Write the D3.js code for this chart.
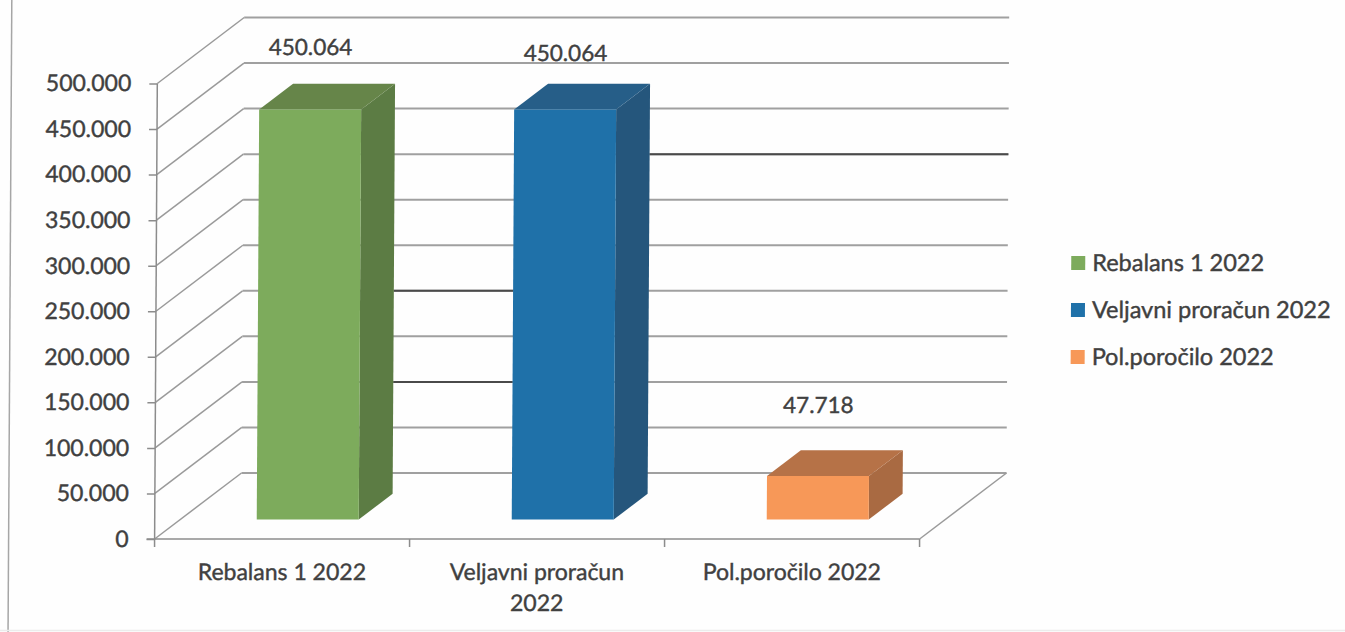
<!DOCTYPE html>
<html>
<head>
<meta charset="utf-8">
<script src="https://cdn.jsdelivr.net/npm/d3@7"></script>
<style>
html, body { margin: 0; padding: 0; background: #fefefe; }
svg { display: block; }
text { font-family: Lato, "Open Sans", sans-serif; fill: #404040; stroke: #404040; stroke-width: 0.4px; }
</style>
</head>
<body>
<svg width="1345" height="632"></svg>
<script>
var categories = ["Rebalans 1 2022", "Veljavni proračun 2022", "Pol.poročilo 2022"];
var values = [450064, 450064, 47718];
var valueLabels = ["450.064", "450.064", "47.718"];
var yTicks = [0, 50000, 100000, 150000, 200000, 250000, 300000, 350000, 400000, 450000, 500000];
var frontColors = ["#7dab5c", "#1f71a9", "#f79858"];
var sideColors = ["#5c7c44", "#25567c", "#a96a42"];
var topColors = ["#668549", "#265e88", "#b67247"];
var darkGapA = [200000, 100000];
var darkGapB = [350000];

var svg = d3.select("svg");

var fmt = d3.formatLocale({ decimal: ",", thousands: ".", grouping: [3], currency: ["", ""] }).format(",");

// the reference is a slightly tilted scan
var chart = svg.append("g").attr("transform", "translate(2.8,0) skewX(-0.34)");

// page border from the scan
chart.append("line").attr("x1", 9).attr("x2", 9).attr("y1", 0).attr("y2", 632)
    .style("stroke", "#a6a6a6").style("stroke-width", 1.5);
svg.append("line").attr("x1", 0).attr("x2", 1345).attr("y1", 630.5).attr("y2", 630.5)
    .style("stroke", "#ececec").style("stroke-width", 1.5);

var left = 155, right = 920, depthX = 86.5, depthY = 66;
var y = d3.scaleLinear().domain([0, 500000]).range([539, 83.5]);
var x = d3.scaleBand().domain(categories).range([left, right]).paddingInner(0.6).paddingOuter(0.3);
var barNear = 0.295, barFar = 0.685;

function wallY(v) { return y(v) - depthY; }

// side wall and back wall grid
var grid = chart.append("g");
grid.selectAll(".side").data(yTicks).enter().append("line")
    .attr("class", "side")
    .attr("x1", left).attr("y1", function(d) { return y(d); })
    .attr("x2", left + depthX).attr("y2", wallY)
    .style("stroke", "#9a9a9a").style("stroke-width", 1.5);
grid.selectAll(".back").data(yTicks).enter().append("line")
    .attr("class", "back")
    .attr("x1", left + depthX).attr("y1", wallY)
    .attr("x2", right + depthX).attr("y2", wallY)
    .style("stroke", "#a0a0a0").style("stroke-width", 2);
// floor right edge
grid.append("line")
    .attr("x1", right).attr("y1", y(0))
    .attr("x2", right + depthX).attr("y2", wallY(0))
    .style("stroke", "#9a9a9a").style("stroke-width", 1.5);

// darker scan lines between the bars
function barRight(i) { return x(categories[i]) + x.bandwidth() + barFar * depthX; }
grid.selectAll(".darkA").data(darkGapA).enter().append("line")
    .attr("class", "darkA")
    .attr("x1", barRight(0)).attr("y1", wallY)
    .attr("x2", x(categories[1]) + barNear * depthX).attr("y2", wallY)
    .style("stroke", "#4a4a4a").style("stroke-width", 2);
grid.selectAll(".darkB").data(darkGapB).enter().append("line")
    .attr("class", "darkB")
    .attr("x1", barRight(1)).attr("y1", wallY)
    .attr("x2", right + depthX).attr("y2", wallY)
    .style("stroke", "#4a4a4a").style("stroke-width", 2);

// axes
var yAxis = d3.axisLeft(y).tickValues(yTicks).tickFormat(fmt).tickSize(8).tickPadding(18);
var gy = chart.append("g").attr("transform", "translate(" + left + ",0)").call(yAxis);
gy.selectAll("text").style("font-size", "23px");
gy.selectAll("line, path").style("stroke", "#8c8c8c").style("stroke-width", 1.5);
gy.select("path").attr("d", "M0," + y(500000) + "V" + y(0));

var floorLine = chart.append("g");
floorLine.append("line").attr("x1", left - 8).attr("x2", right).attr("y1", y(0)).attr("y2", y(0))
    .style("stroke", "#8c8c8c").style("stroke-width", 1.5);
floorLine.selectAll(".tick").data(d3.range(categories.length + 1)).enter().append("line")
    .attr("class", "tick")
    .attr("x1", function(d) { return left + d * x.step(); })
    .attr("x2", function(d) { return left + d * x.step(); })
    .attr("y1", y(0)).attr("y2", y(0) + 8)
    .style("stroke", "#8c8c8c").style("stroke-width", 1.5);

var xAxis = d3.axisBottom(x).tickSize(0).tickPadding(0);
var gx = chart.append("g").attr("transform", "translate(0," + y(0) + ")").call(xAxis);
gx.select("path").remove();
gx.selectAll("text")
    .style("font-size", "23px")
    .attr("y", 41).attr("dy", null)
    .each(function(d) {
        if (d.length < 20) return;
        var el = d3.select(this), words = d.split(" ");
        el.text(null);
        el.append("tspan").attr("x", 0).text(words.slice(0, -1).join(" "));
        el.append("tspan").attr("x", 0).attr("dy", 31).text(words[words.length - 1]);
    });

// bars
var bars = chart.selectAll(".bar").data(categories).enter().append("g").attr("class", "bar");
var shift = barNear * depthX, lift = barNear * depthY;
var dx = (barFar - barNear) * depthX, dy = (barFar - barNear) * depthY;

bars.append("polygon")
    .attr("points", function(d, i) {
        var r = x(d) + x.bandwidth() + shift, t = y(values[i]) - lift, b = y(0) - lift;
        return [[r, t], [r + dx, t - dy], [r + dx, b - dy], [r, b]].join(" ");
    })
    .style("fill", function(d, i) { return sideColors[i]; });
bars.append("polygon")
    .attr("points", function(d, i) {
        var l = x(d) + shift, r = l + x.bandwidth(), t = y(values[i]) - lift;
        return [[l, t], [l + dx, t - dy], [r + dx, t - dy], [r, t]].join(" ");
    })
    .style("fill", function(d, i) { return topColors[i]; });
bars.append("rect")
    .attr("x", function(d) { return x(d) + shift; })
    .attr("y", function(d, i) { return y(values[i]) - lift; })
    .attr("width", x.bandwidth())
    .attr("height", function(d, i) { return y(0) - y(values[i]); })
    .style("fill", function(d, i) { return frontColors[i]; });

// value labels sit at hand placed heights in the original
var labelLift = [29, 23, 37];
bars.append("text")
    .attr("x", function(d) { return x(d) + shift + x.bandwidth() / 2; })
    .attr("y", function(d, i) { return y(values[i]) - lift - dy - labelLift[i]; })
    .attr("text-anchor", "middle")
    .style("font-size", "22.5px")
    .text(function(d, i) { return valueLabels[i]; });

// legend
var legend = chart.selectAll(".legend").data(categories).enter().append("g")
    .attr("class", "legend")
    .attr("transform", function(d, i) { return "translate(1070," + (263 + i * 47) + ")"; });
legend.append("rect")
    .attr("x", 0).attr("y", -7).attr("width", 14).attr("height", 14)
    .style("fill", function(d, i) { return frontColors[i]; });
legend.append("text")
    .attr("x", 21).attr("dy", "0.35em")
    .style("font-size", "23.5px")
    .text(function(d) { return d; });
</script>
</body>
</html>
